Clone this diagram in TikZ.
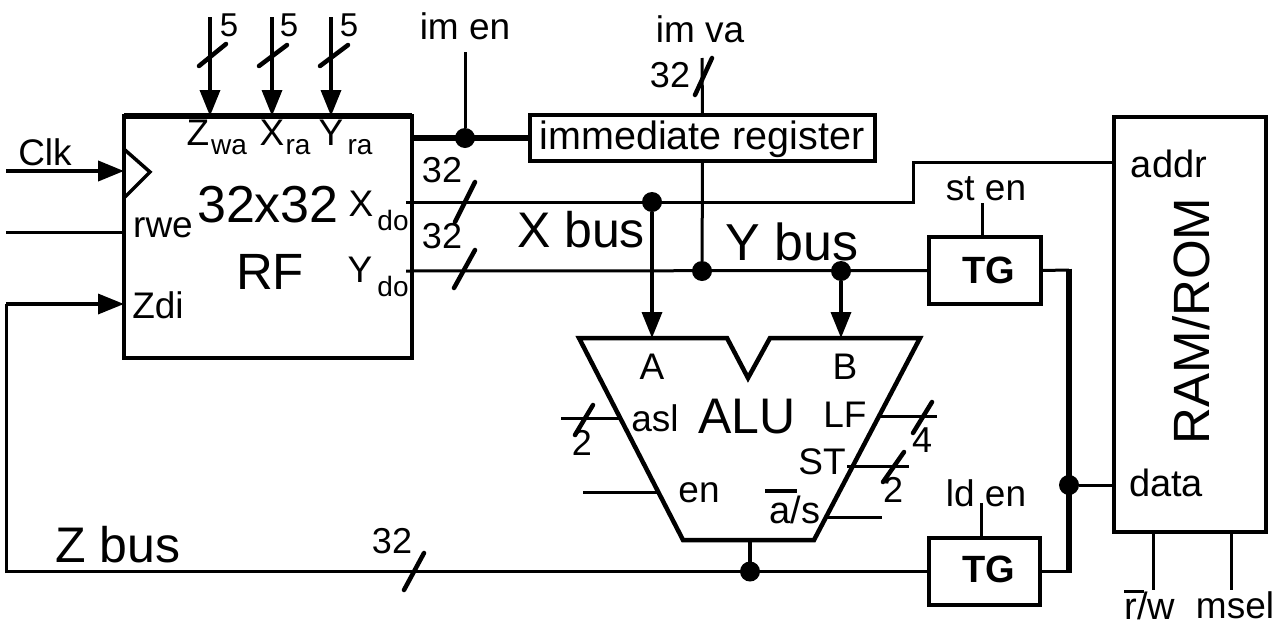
\documentclass[tikz,border=0pt]{standalone}
\usepackage{fontspec}
\setmainfont{Liberation Sans}
\usetikzlibrary{arrows.meta,calc}
\newcommand{\fs}[1]{\fontsize{#1}{#1}\selectfont}
\tikzset{
  wire/.style={line width=3pt,line cap=butt},
  bus/.style={line width=5.5pt},
  arr/.style={line width=3.5pt,-{Triangle[length=26pt,width=20pt]}},
  slash/.style={line width=4.5pt,line cap=round},
  boxx/.style={draw,line width=3.5pt,inner sep=0,outer sep=0,fill=none},
  lab/.style={inner sep=0,outer sep=0,font=\fs{37}},
  big/.style={inner sep=0,outer sep=0,font=\fs{50}},
  sub/.style={inner sep=0,outer sep=0,font=\fs{28}},
  num/.style={inner sep=0,outer sep=0,font=\fs{36}},
  jdot/.style={circle,fill=black,inner sep=0,minimum size=20pt,outer sep=0},
}
\begin{document}
\begin{tikzpicture}[x=1pt,y=-1pt]
\useasboundingbox (0,0) rectangle (1287,627);
% --- blocks
\node[boxx,minimum width=288pt,minimum height=242pt] (rf) at (268,237) {};
\draw[line width=6pt] (rf.north west) -- (rf.north east);
\node[boxx,minimum width=345pt,minimum height=46pt] (imm) at (702.5,138) {};
\node[lab,font=\fs{39.5}] at (702,139) {immediate register};
\node[boxx,minimum width=112pt,minimum height=67pt] (tg1) at (985,270.5) {};
\node[lab,font=\bfseries\fs{38}] at (989,270) {TG};
\node[boxx,minimum width=111pt,minimum height=67pt] (tg2) at (984.5,571.5) {};
\node[lab,font=\bfseries\fs{38}] at (989,569) {TG};
\node[boxx,minimum width=152pt,minimum height=415pt] (ram) at (1190,324.5) {};
\node[lab,font=\fs{51},rotate=90] at (1191,321) {RAM/ROM};
% ALU
\coordinate (a1) at (579,338); \coordinate (a2) at (727,338); \coordinate (a3) at (748,378);
\coordinate (a4) at (770,338); \coordinate (a5) at (920,338); \coordinate (a6) at (814,540);
\coordinate (a7) at (683,540);
\draw[line width=4.5pt,line join=miter] (a1) -- (a2) -- (a3) -- (a4) -- (a5) -- (a6) -- (a7) -- cycle;
% clock mark
\draw[line width=3.5pt] (125,150) -- (150,172) -- (125,197);
% --- junctions
\node[jdot] (jimm) at (465,138) {};
\node[jdot] (jxa) at (652,202) {};
\node[jdot] (jyi) at (702,271) {};
\node[jdot] (jyb) at (841,271) {};
\node[jdot] (jz) at (750,571.5) {};
\node[jdot] (jd) at (1069,485) {};
% --- free ends
\coordinate (z5) at (210,17); \coordinate (x5) at (272,17); \coordinate (y5) at (331,17);
\coordinate (clk) at (6,171); \coordinate (rwe) at (6,232);
\coordinate (zl) at (6,571.5); \coordinate (zu) at (6,304);
\coordinate (imen) at (465,52); \coordinate (imva) at (702,58);
\coordinate (xo) at (406,202); \coordinate (yo) at (406,271);
\coordinate (xk1) at (913,202); \coordinate (xk2) at (913,162);
\coordinate (bj1) at (1069,270); \coordinate (bj2) at (1069,571.5);
\coordinate (aA) at (652,338); \coordinate (aB) at (841,338); \coordinate (aZ) at (750,540);
% --- connectors
\draw[arr] (z5) -- (z5 |- rf.north);
\draw[arr] (x5) -- (x5 |- rf.north);
\draw[arr] (y5) -- (y5 |- rf.north);
\draw[arr,line width=4pt] (clk) -- (clk -| rf.west);
\draw[wire] (rwe) -- (rwe -| rf.west);
\draw[wire] (zl) -- (tg2.west);
\draw[wire] (6,573) -- (zu);
\draw[arr] (zu) -- (zu -| rf.west);
\draw[bus] (imm.west) -- (imm.west -| rf.east);
\draw[wire] (imen) -- (jimm);
\draw[wire] (imva) -- (imm.north);
\draw[wire] (imm.south) -- (jyi);
\draw[wire] (xo) -- (xk1) -- (xk2) -- (xk2 -| ram.west);
\draw[wire] (yo) -- (tg1.west);
\draw[arr] (jxa) -- (aA);
\draw[arr] (jyb) -- (aB);
\draw[line width=4pt] (aZ) -- (jz);
\draw[wire] (tg1.east) -- (bj1);
\draw[wire] (tg2.east) -- (bj2);
\draw[bus] (1069,268.5) -- (1069,573);
\draw[wire] (jd) -- (jd -| ram.west);
\draw[wire] (982,203) -- (982,237);
\draw[wire] (981,503) -- (981,538);
\draw[wire] (1153,532) -- (1153,590);
\draw[wire] (1231,532) -- (1231,590);
\draw[wire] (561,418) -- (622,418);
\draw[wire] (583,492) -- (658,492);
\draw[wire] (877,416) -- (937,416);
\draw[wire] (847,466) -- (909,466);
\draw[wire] (827,517) -- (882,517);
% --- width slashes
\draw[slash] (199,66) -- (226,44);
\draw[slash] (259,66) -- (287,45);
\draw[slash] (320,66) -- (348,45);
\draw[slash] (455,222) -- (475,182);
\draw[slash] (454,288) -- (475,250);
\draw[slash] (695,95) -- (712,58);
\draw[slash] (404,590) -- (424,553);
\draw[slash] (575,435) -- (593,405);
\draw[slash] (913,433) -- (932,402);
\draw[slash] (883,482) -- (904,452);
% --- labels
\node[num,font=\fs{33}] at (229,25) {5};
\node[num,font=\fs{33}] at (289,25) {5};
\node[num,font=\fs{33}] at (349,25) {5};
\node[lab] at (465,26) {im en};
\node[lab] at (700,29) {im va};
\node[num] at (670,75) {32};
\node[num] at (442,170) {32};
\node[num] at (442,236) {32};
\node[num] at (392,541) {32};
\node[lab] at (198,133) {Z};
\node[sub] at (229,147) {wa};
\node[lab] at (272,133) {X};
\node[sub] at (298,147) {ra};
\node[lab] at (331,133) {Y};
\node[sub] at (360,147) {ra};
\node[lab] at (45,152) {Clk};
\node[lab] at (163,228) {rwe};
\node[lab] at (158,305) {Zdi};
\node[big,font=\fs{52}] at (268,205) {32x32};
\node[big,font=\fs{51}] at (270,272) {RF};
\node[lab] at (361,204) {X};
\node[sub] at (393,220) {do};
\node[lab] at (360,270) {Y};
\node[sub] at (393,286) {do};
\node[big] at (581,230) {X bus};
\node[big,font=\fs{52}] at (792,242) {Y bus};
\node[big] at (118,545) {Z bus};
\node[lab] at (652,367) {A};
\node[lab] at (845,367) {B};
\node[lab] at (655,418) {asl};
\node[big] at (747,417) {ALU};
\node[lab] at (845,415) {LF};
\node[lab] at (822,462) {ST};
\node[lab] at (699,493) {en};
\node[lab,font=\fs{38}] at (795,510) {a/s};
\draw[line width=4pt] (765,491) -- (797,491);
\node[num] at (582,443) {2};
\node[num] at (922,440) {4};
\node[num] at (893,490) {2};
\node[lab] at (986,189) {st en};
\node[lab] at (986,493) {ld en};
\node[lab,font=\fs{38}] at (1169,164) {addr};
\node[lab,font=\fs{38}] at (1166,483) {data};
\node[lab,font=\fs{38}] at (1150,606) {r/w};
\draw[line width=3pt] (1124,591) -- (1144,591);
\node[lab] at (1235,605) {msel};
\end{tikzpicture}
\end{document}
